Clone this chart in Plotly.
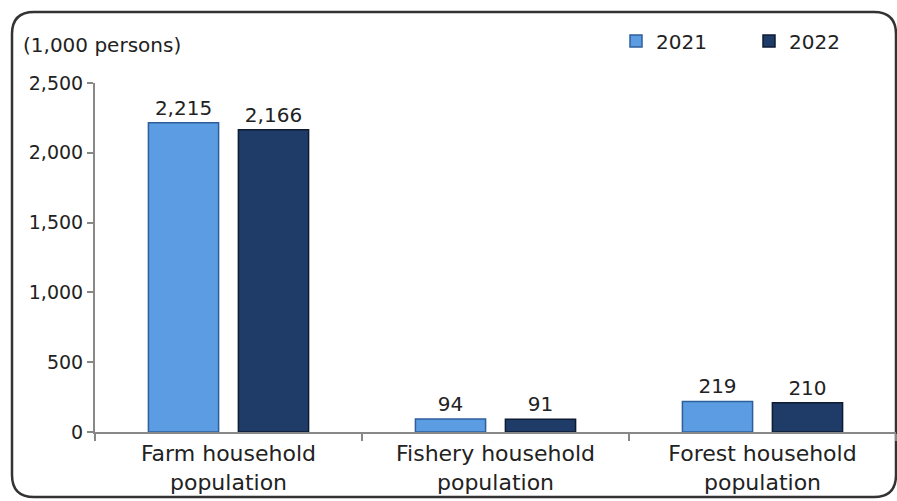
import plotly.graph_objects as go

categories = ["Farm household<br>population", "Fishery household<br>population", "Forest household<br>population"]
values_2021 = [2215, 94, 219]
values_2022 = [2166, 91, 210]
series_names = ["2021", "2022"]
y_ticks = [0, 500, 1000, 1500, 2000, 2500]
y_unit = "(1,000 persons)"

W, H = 897, 501
ML, MR, MT, MB = 95, 1, 83, 69
PW = W - ML - MR
PH = H - MT - MB
FONT = "DejaVu Sans"

def px(x):
    return (x - ML) / PW

def py(y):
    return (H - MB - y) / PH

fig = go.Figure()
fig.add_trace(go.Bar(
    x=categories, y=values_2021, name=series_names[0],
    marker=dict(color="#5b9ce3", line=dict(color="#2f5f9a", width=1.5)),
    text=values_2021, texttemplate="%{y:,}", textposition="outside",
    textfont=dict(size=20, color="#222", family=FONT), cliponaxis=False,
))
fig.add_trace(go.Bar(
    x=categories, y=values_2022, name=series_names[1],
    marker=dict(color="#1f3c69", line=dict(color="#0e1b31", width=1.5)),
    text=values_2022, texttemplate="%{y:,}", textposition="outside",
    textfont=dict(size=20, color="#222", family=FONT), cliponaxis=False,
))

# rounded frame
L, T, R, B, r = 12, 12, 896, 497, 22
path = (
    f"M {px(L + r)},{py(T)} L {px(R - r)},{py(T)} Q {px(R)},{py(T)} {px(R)},{py(T + r)} "
    f"L {px(R)},{py(B - r)} Q {px(R)},{py(B)} {px(R - r)},{py(B)} "
    f"L {px(L + r)},{py(B)} Q {px(L)},{py(B)} {px(L)},{py(B - r)} "
    f"L {px(L)},{py(T + r)} Q {px(L)},{py(T)} {px(L + r)},{py(T)} Z"
)
fig.add_shape(type="path", path=path, xref="paper", yref="paper",
              line=dict(color="#333", width=2.5), layer="below")

fig.add_annotation(text=y_unit, xref="paper", yref="paper", x=px(21), y=py(45),
                   xanchor="left", yanchor="middle", showarrow=False,
                   font=dict(size=20, color="#222", family=FONT))

fig.update_layout(
    width=W, height=H,
    margin=dict(l=ML, r=MR, t=MT, b=MB, autoexpand=False),
    paper_bgcolor="white", plot_bgcolor="white",
    font=dict(family=FONT, color="#222"),
    barmode="group", bargap=0.326, bargroupgap=0.22,
    showlegend=True,
    legend=dict(orientation="h", x=px(616), y=py(41), xanchor="left", yanchor="middle",
                font=dict(size=20, color="#222", family=FONT),
                entrywidth=88, entrywidthmode="pixels",
                bgcolor="rgba(0,0,0,0)", traceorder="normal"),
)
fig.update_xaxes(
    type="category", showline=True, linecolor="#888", linewidth=2,
    ticks="outside", tickson="boundaries", ticklen=7, tickcolor="#888", tickwidth=2,
    tickfont=dict(size=22, color="#222", family=FONT), showgrid=False, automargin=False,
    ticklabelstandoff=1,
)
fig.update_yaxes(
    range=[0, 2500], tickvals=y_ticks, tickformat=",", showline=True, linecolor="#888",
    linewidth=2, ticks="outside", ticklen=6, tickcolor="#888", tickwidth=2,
    tickfont=dict(size=19, color="#222", family=FONT), showgrid=False, zeroline=False,
    automargin=False,
)

fig.write_html("out.html", config={"displayModeBar": False},
               post_script="document.body.style.margin='0px';document.body.style.overflow='hidden';")
